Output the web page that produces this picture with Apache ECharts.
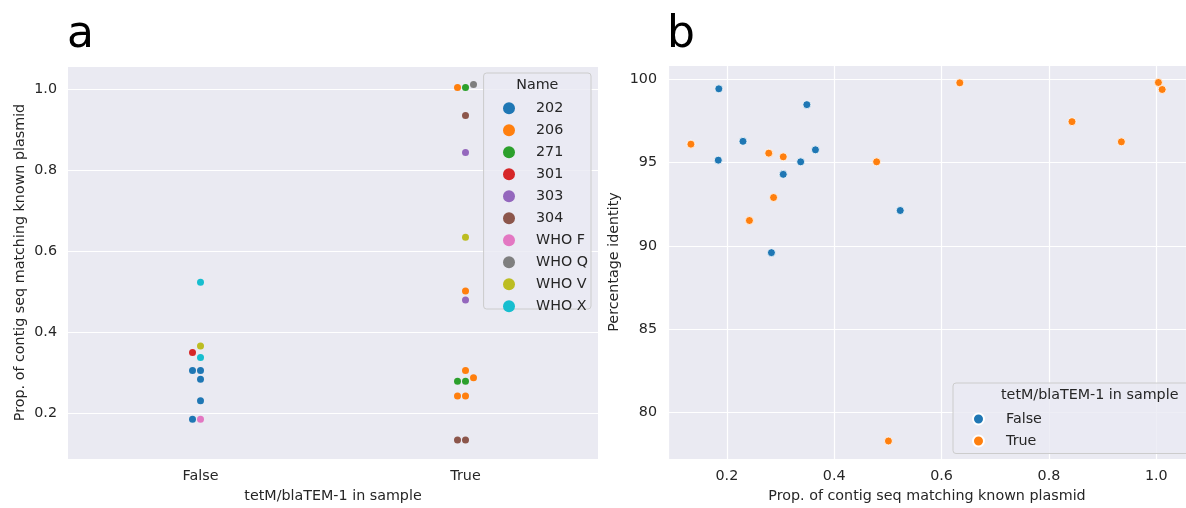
<!DOCTYPE html>
<html><head><meta charset="utf-8">
<script src="https://cdn.jsdelivr.net/npm/echarts@6/dist/echarts.min.js"></script>
<style>html,body{margin:0;padding:0;background:#fff}#c{width:1186px;height:508px}</style>
</head><body><div id="c"></div>
<script>
// ---------- DATA ----------
const categories = ['False', 'True'];
const names = ['202', '206', '271', '301', '303', '304', 'WHO F', 'WHO Q', 'WHO V', 'WHO X'];
const palette = ['#1f77b4', '#ff7f0e', '#2ca02c', '#d62728', '#9467bd', '#8c564b', '#e377c2', '#7f7f7f', '#bcbd22', '#17becf'];

// panel a: swarm points (tetM/blaTEM-1 = False)
const falseNames = ['202', '202', '202', '202', '202', '301', 'WHO F', 'WHO V', 'WHO X', 'WHO X'];
const falseProp  = [0.305, 0.305, 0.283, 0.230, 0.184, 0.349, 0.184, 0.365, 0.523, 0.337];
// panel a: swarm points (tetM/blaTEM-1 = True)
const trueNames = ['206', '206', '206', '206', '206', '206', '271', '271', '271', '303', '303', '304', '304', '304', 'WHO Q', 'WHO V'];
const trueProp  = [1.004, 0.501, 0.305, 0.287, 0.242, 0.242, 1.004, 0.278, 0.278, 0.843, 0.479, 0.935, 0.133, 0.133, 1.011, 0.634];

// panel b: scatter
const bFalseProp  = [0.185, 0.349, 0.230, 0.365, 0.184, 0.3375, 0.305, 0.523, 0.283, 0.305];
const bFalseIdent = [99.42, 98.47, 96.27, 95.76, 95.14, 95.04, 94.29, 92.12, 89.59, 94.29];
const bTrueProp   = [0.133, 0.133, 0.279, 0.278, 0.305, 0.479, 0.287, 0.242, 0.242, 0.634, 0.843, 0.935, 1.004, 1.004, 1.011, 0.501];
const bTrueIdent  = [96.10, 96.10, 95.56, 95.56, 95.34, 95.04, 92.90, 91.52, 91.52, 99.78, 97.45, 96.24, 99.80, 99.80, 99.38, 78.29];

// ---------- CHART ----------
const FONT = 'DejaVu Sans';
const TXT = '#262626';
const chart = echarts.init(document.getElementById('c'), null, {renderer: 'canvas'});

function swarmPoints() {
  const pts = [];
  falseNames.forEach((n, i) => pts.push({name: n, cat: 0, v: falseProp[i]}));
  trueNames.forEach((n, i) => pts.push({name: n, cat: 1, v: trueProp[i]}));
  return pts;
}

function buildSwarmSeries(pts) {
  return names.map((n, i) => ({
    type: 'scatter', id: 'sw' + i, name: n, xAxisIndex: 0, yAxisIndex: 0,
    symbol: 'circle', symbolSize: 7, z: 2,
    itemStyle: {color: palette[i], opacity: 1},
    data: pts.filter(p => p.name === n).map(p => ({value: [p.cat, p.v], symbolOffset: [p.off || 0, 0]}))
  }));
}

function axisText(size) { return {color: TXT, fontSize: size, fontFamily: FONT}; }

const pts = swarmPoints();

const option = {
  animation: false,
  backgroundColor: '#ffffff',
  grid: [
    {left: 68, top: 66, width: 530, height: 395.7, show: true, backgroundColor: '#eaeaf2', borderWidth: 0},
    {left: 668, top: 65, width: 531, height: 396, show: true, backgroundColor: '#eaeaf2', borderWidth: 0}
  ],
  xAxis: [
    {type: 'category', gridIndex: 0, data: categories, boundaryGap: true,
     axisLine: {show: false}, axisTick: {show: false}, splitLine: {show: false},
     axisLabel: Object.assign({margin: 10}, axisText(14.3)),
     name: 'tetM/blaTEM-1 in sample', nameLocation: 'middle', nameGap: 30, nameTextStyle: axisText(14.3)},
    {type: 'value', gridIndex: 1, min: 0.0903, max: 1.0554,
     axisLine: {show: false}, axisTick: {show: false},
     splitLine: {show: true, lineStyle: {color: '#ffffff', width: 1.2}},
     axisLabel: Object.assign({margin: 10, showMinLabel: false, showMaxLabel: false, formatter: v => v.toFixed(1)}, axisText(14.3)),
     name: 'Prop. of contig seq matching known plasmid', nameLocation: 'middle', nameGap: 30, nameTextStyle: axisText(14.3)}
  ],
  yAxis: [
    {type: 'value', gridIndex: 0, min: 0.0861, max: 1.057,
     axisLine: {show: false}, axisTick: {show: false},
     splitLine: {show: true, lineStyle: {color: '#ffffff', width: 1.2}},
     axisLabel: Object.assign({margin: 11, showMinLabel: false, showMaxLabel: false, formatter: v => v.toFixed(1)}, axisText(14.3)),
     name: 'Prop. of contig seq matching known plasmid', nameLocation: 'middle', nameGap: 41, nameTextStyle: axisText(14.3)},
    {type: 'value', gridIndex: 1, min: 77.21, max: 100.85,
     axisLine: {show: false}, axisTick: {show: false},
     splitLine: {show: true, lineStyle: {color: '#ffffff', width: 1.2}},
     axisLabel: Object.assign({margin: 11, showMinLabel: false, showMaxLabel: false, formatter: v => String(Math.round(v))}, axisText(14.3)),
     name: 'Percentage identity', nameLocation: 'middle', nameGap: 47, nameTextStyle: axisText(14.3)}
  ],
  legend: [
    {data: names, orient: 'vertical', left: 498, top: 96.3, itemWidth: 12, itemHeight: 12, itemGap: 8,
     icon: 'circle', selectedMode: false, z: 5,
     formatter: n => '{t|' + n + '}',
     textStyle: {color: TXT, fontFamily: FONT, fontSize: 14.3,
       rich: {t: {color: TXT, fontFamily: FONT, fontSize: 14.3, lineHeight: 12, padding: [0, 0, 0, 16]}}}},
    {data: ['False', 'True'], orient: 'vertical', left: 967, top: 407, itemWidth: 11, itemHeight: 11, itemGap: 8,
     icon: 'circle', selectedMode: false, z: 5,
     formatter: n => '{t|' + n + '}',
     textStyle: {color: TXT, fontFamily: FONT, fontSize: 14.3,
       rich: {t: {color: TXT, fontFamily: FONT, fontSize: 14.3, lineHeight: 11, padding: [0, 0, 0, 17]}}}}
  ],
  graphic: [
    {type: 'rect', z: 3, shape: {x: 483.6, y: 73, width: 107.4, height: 236, r: 3},
     style: {fill: 'rgba(234,234,242,0.8)', stroke: '#cccccc', lineWidth: 1}},
    {type: 'text', z: 4, x: 537.3, y: 85, style: {text: 'Name', fill: TXT, font: '14.3px "DejaVu Sans"', textAlign: 'center', textVerticalAlign: 'middle'}},
    {type: 'rect', z: 3, shape: {x: 953, y: 383, width: 245, height: 70.5, r: 3},
     style: {fill: 'rgba(234,234,242,0.8)', stroke: '#cccccc', lineWidth: 1}},
    {type: 'text', z: 4, x: 1001, y: 395, style: {text: 'tetM/blaTEM-1 in sample', fill: TXT, font: '14.3px "DejaVu Sans"', textAlign: 'left', textVerticalAlign: 'middle'}},
    {type: 'text', z: 4, x: 67, y: 36, style: {text: 'a', fill: '#000', font: '44px "DejaVu Sans"', textAlign: 'left', textVerticalAlign: 'middle'}},
    {type: 'text', z: 4, x: 667, y: 36, style: {text: 'b', fill: '#000', font: '44px "DejaVu Sans"', textAlign: 'left', textVerticalAlign: 'middle'}}
  ],
  series: buildSwarmSeries(pts).concat([
    {type: 'scatter', id: 'bF', name: 'False', xAxisIndex: 1, yAxisIndex: 1, symbolSize: 8, z: 2,
     itemStyle: {color: '#1f77b4', borderColor: '#ffffff', borderWidth: 0.8, opacity: 1},
     data: bFalseProp.map((x, i) => [x, bFalseIdent[i]])},
    {type: 'scatter', id: 'bT', name: 'True', xAxisIndex: 1, yAxisIndex: 1, symbolSize: 8, z: 2,
     itemStyle: {color: '#ff7f0e', borderColor: '#ffffff', borderWidth: 0.8, opacity: 1},
     data: bTrueProp.map((x, i) => [x, bTrueIdent[i]])}
  ])
};
chart.setOption(option);

// beeswarm layout: dodge overlapping points sideways (pixel units from the axis scale)
const D = 8;
[0, 1].forEach(cat => {
  const group = pts.filter(p => p.cat === cat);
  group.forEach(p => { p.py = chart.convertToPixel({yAxisIndex: 0}, p.v); });
  group.sort((a, b) => (a.v - b.v) || (names.indexOf(b.name) - names.indexOf(a.name)));
  const placed = [];
  group.forEach(p => {
    const cands = [0, -D, D, -2 * D, 2 * D, -3 * D, 3 * D];
    for (const o of cands) {
      const clash = placed.some(q => (o - q.off) ** 2 + (p.py - q.py) ** 2 < (D - 0.5) ** 2);
      if (!clash) { p.off = o; break; }
    }
    placed.push(p);
  });
});
chart.setOption({series: buildSwarmSeries(pts)});
</script>
</body></html>
